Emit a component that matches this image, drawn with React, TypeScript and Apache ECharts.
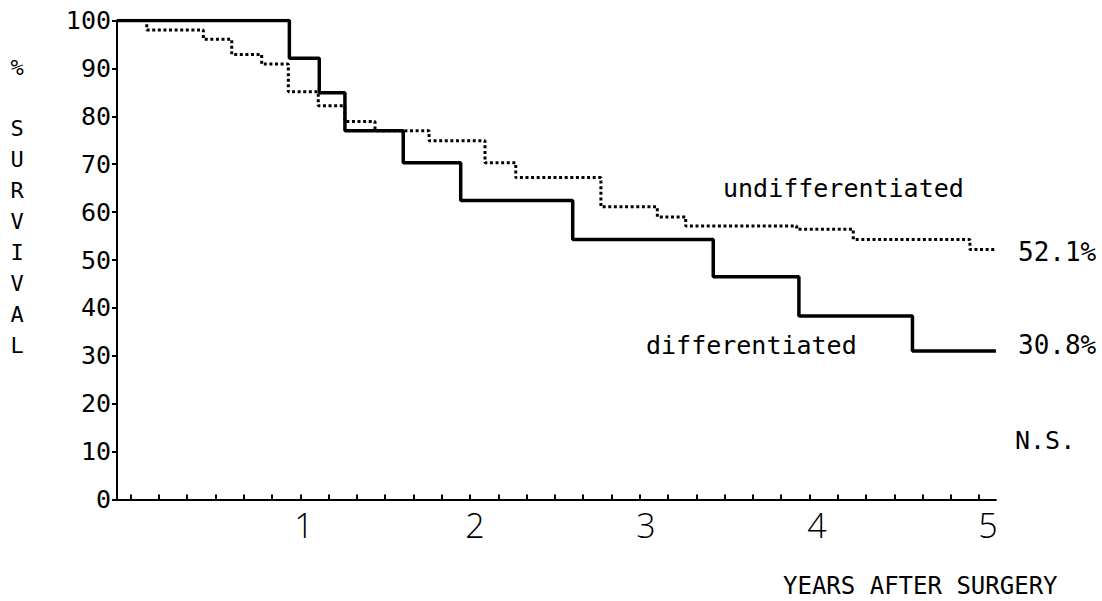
import React, { useEffect, useRef } from "react";
import * as echarts from "echarts";

// Differentiated (solid) Kaplan-Meier steps: time in years, survival in %
const diffTimes = [0, 1.008, 1.183, 1.333, 1.674, 2.01, 2.665, 3.487, 3.988, 4.652, 5.14];
const diffSurvival = [100, 92.1, 84.9, 77.0, 70.3, 62.4, 54.3, 46.5, 38.3, 31.0, 31.0];

// Undifferentiated (dotted)
const undiffTimes = [0, 0.174, 0.505, 0.671, 0.846, 1.002, 1.177, 1.333, 1.509, 1.825, 2.152, 2.332, 2.83, 3.16, 3.326, 3.975, 4.306, 4.988, 5.14];
const undiffSurvival = [100, 98.0, 96.1, 92.9, 90.9, 85.1, 82.2, 78.9, 77.0, 74.9, 70.3, 67.2, 61.1, 59.0, 57.1, 56.4, 54.3, 52.2, 52.2];

const xLabelValues = [1, 2, 3, 4, 5];
const minorTickStart = 0.08;
const minorTickStep = 0.1654;
const minorTickCount = 31;

const MONO = "'DejaVu Sans Mono', 'Liberation Mono', monospace";

export default function App() {
  const ref = useRef<HTMLDivElement>(null);
  useEffect(() => {
    if (!ref.current) return;
    const chart = echarts.init(ref.current, undefined, { renderer: "svg" });
    const tickVals: number[] = [];
    for (let k = 0; k < minorTickCount; k++) tickVals.push(+(minorTickStart + k * minorTickStep).toFixed(4));
    const diffData = diffTimes.map((t, i) => [t, diffSurvival[i]]);
    const undiffData = undiffTimes.map((t, i) => [t, undiffSurvival[i]]);
    const txt = (text: string, x: number, y: number, size: number, align = "left", extra: any = {}) => ({
      type: "text",
      x,
      y,
      silent: true,
      style: {
        text,
        fill: "#000",
        font: `${size}px ${MONO}`,
        textAlign: align,
        textVerticalAlign: "middle",
        ...extra,
      },
    });
    chart.setOption({
      animation: false,
      backgroundColor: "#fff",
      grid: { left: 117, right: 106.1, top: 20.5, bottom: 101.5, containLabel: false, outerBoundsMode: "none" },
      xAxis: {
        type: "value",
        min: 0,
        max: 5.14,
        splitLine: { show: false },
        axisLine: { show: true, lineStyle: { color: "#000", width: 2 } },
        axisTick: { show: true, inside: true, length: 5, customValues: tickVals, lineStyle: { color: "#000", width: 2 } },
        axisLabel: {
          show: true,
          customValues: xLabelValues,
          color: "#000",
          fontFamily: "'Open Sans', 'DejaVu Sans', sans-serif",
          fontWeight: 300,
          fontSize: 34,
          margin: 8,
          align: "center",
          padding: [0, 0, 0, 32],
        },
      },
      yAxis: {
        type: "value",
        min: 0,
        max: 100,
        interval: 10,
        splitLine: { show: false },
        axisLine: { show: true, lineStyle: { color: "#000", width: 2 } },
        axisTick: { show: true, inside: false, length: 5, lineStyle: { color: "#000", width: 2 } },
        axisLabel: { color: "#000", fontFamily: MONO, fontSize: 25, margin: 6 },
      },
      series: [
        {
          type: "line",
          name: "undifferentiated",
          step: "end",
          data: undiffData,
          showSymbol: false,
          symbol: "none",
          lineStyle: { color: "#000", width: 3, type: [3, 2.6], cap: "butt" },
          z: 2,
        },
        {
          type: "line",
          name: "differentiated",
          step: "end",
          data: diffData,
          showSymbol: false,
          symbol: "none",
          lineStyle: { color: "#000", width: 3.5 },
          z: 3,
        },
      ],
      graphic: [
        txt("%", 17, 67, 22, "center"),
        txt("S\nU\nR\nV\nI\nV\nA\nL", 17, 237, 22, "center", { lineHeight: 31 }),
        txt("undifferentiated", 723, 188, 25),
        txt("differentiated", 646, 345, 25),
        txt("52.1%", 1018, 252, 26),
        txt("30.8%", 1018, 345, 26),
        txt("N.S.", 1015, 440, 25),
        txt("YEARS AFTER SURGERY", 783, 586, 24),
      ],
    });
    return () => chart.dispose();
  }, []);
  return <div ref={ref} style={{ position: "fixed", left: 0, top: 0, width: 1102, height: 601, background: "#fff" }} />;
}
